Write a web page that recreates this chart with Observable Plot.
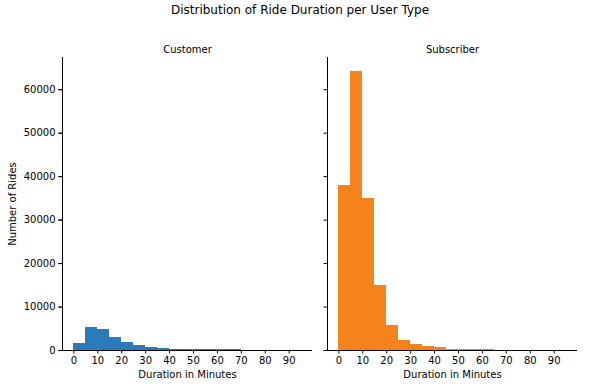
<!DOCTYPE html>
<html><head><meta charset="utf-8">
<script src="https://cdn.jsdelivr.net/npm/d3@7"></script>
<script src="https://cdn.jsdelivr.net/npm/@observablehq/plot@0.6"></script>
<style>
body{margin:0;background:#fff;font-family:"DejaVu Sans",sans-serif;}
#title{height:24px;line-height:20px;text-align:center;font-size:12px;color:#000;padding-left:10px;}
svg{font-family:"DejaVu Sans",sans-serif;}
</style></head><body>
<div id="title">Distribution of Ride Duration per User Type</div>
<div id="chart"></div>
<script>
const userTypes = ["Customer", "Subscriber"];
const binStarts = [0, 5, 10, 15, 20, 25, 30, 35, 40, 45, 50, 55, 60, 65, 70, 75, 80, 85, 90];
const binWidth = 5;
const customerCounts = [1650, 5350, 4900, 3050, 1900, 1200, 760, 530, 300, 260, 240, 230, 220, 210, 0, 0, 0, 0, 0];
const subscriberCounts = [37900, 64200, 35000, 14900, 5700, 2300, 1400, 920, 700, 300, 280, 260, 250, 0, 0, 0, 0, 0, 0];
const xTicks = [0, 10, 20, 30, 40, 50, 60, 70, 80, 90];
const yTicks = [0, 10000, 20000, 30000, 40000, 50000, 60000];
const xDomain = [-4.75, 99.75];
const yDomain = [0, 67410];
const colors = ["#2b7bba", "#f5821a"];
const xLabel = "Duration in Minutes";
const yLabel = "Number of Rides";

const rows = [];
const countsByType = [customerCounts, subscriberCounts];
userTypes.forEach((t, i) => {
  binStarts.forEach((s, j) => {
    rows.push({type: t, x1: s, x2: s + binWidth, count: countsByType[i][j]});
  });
});

const chart = Plot.plot({
  width: 590,
  height: 363,
  marginLeft: 62,
  marginRight: 13,
  marginTop: 33,
  marginBottom: 37,
  style: {fontSize: "10px", fontFamily: "DejaVu Sans, sans-serif", color: "#000", background: "#fff"},
  fx: {domain: userTypes, paddingInner: 15 / 265, paddingOuter: 0},
  x: {domain: xDomain},
  y: {domain: yDomain},
  color: {domain: userTypes, range: colors},
  marks: [
    Plot.rectY(rows, {fx: "type", x1: "x1", x2: "x2", y: "count", fill: "type", inset: 0, shapeRendering: "crispEdges"}),
    Plot.ruleY([0], {stroke: "#000", strokeWidth: 1}),
    Plot.ruleX([xDomain[0]], {stroke: "#000", strokeWidth: 1}),
    Plot.axisFx({anchor: "top", tickSize: 0, tickPadding: 5, label: null, fontSize: 10}),
    Plot.axisX({ticks: xTicks, tickSize: 3.5, tickPadding: 3, label: null, fontSize: 10}),
    Plot.axisY({ticks: yTicks, tickSize: 3.5, facetAnchor: null, tickFormat: () => "", label: null}),
    Plot.axisY({ticks: yTicks, tickSize: 3.5, tickPadding: 3.5, tickFormat: d3.format("d"), label: yLabel, labelAnchor: "center", labelArrow: "none", labelOffset: 54, fontSize: 10}),
    Plot.text(userTypes, {fx: d => d, text: () => xLabel, frameAnchor: "bottom", dy: 27, fontSize: 10})
  ]
});
document.getElementById("chart").appendChild(chart);
</script>
</body></html>
